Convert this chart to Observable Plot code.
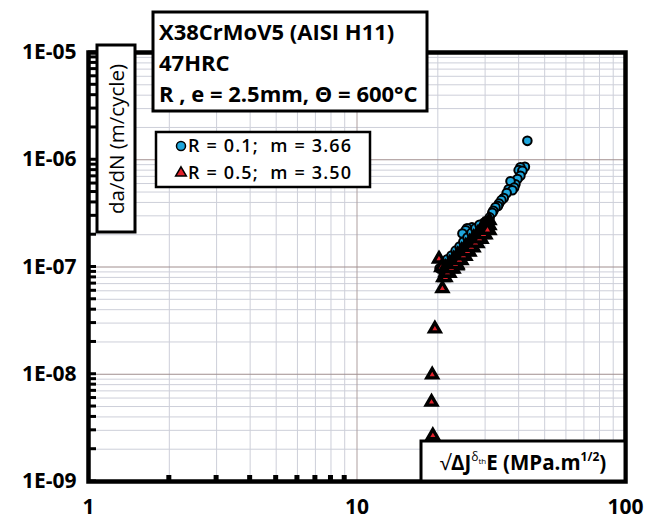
<!DOCTYPE html>
<html><head><meta charset="utf-8">
<script src="https://cdn.jsdelivr.net/npm/d3@7"></script>
<script src="https://cdn.jsdelivr.net/npm/@observablehq/plot@0.6"></script>
<style>body{margin:0;background:#fff}</style>
</head><body><div id="chart"></div>
<script>
// R = 0.1 series (x: sqrt(ΔJ E) MPa.m^1/2, y: da/dN m/cycle)
const r01Delta = [43.1,42.2,40.6,40.0,41.3,40.6,39.6,38.9,37.3,38.5,36.7,37.9,36.1,35.2,34.5,33.8,33.5,32.8,32.2,31.9,31.2,30.5,29.8,28.8,26.8,25.7,25.4,24.7,25.4,
  20.3,21.2,21.7,22.5,23.3,24.1,24.9,25.8,26.7,27.6,28.6,
  21.0,21.9,22.5,23.3,24.1,24.9,25.8,26.7,27.6,28.6,29.6,30.6];
const r01Rate = [1.50e-6,8.6e-7,8.5e-7,8.0e-7,7.9e-7,7.1e-7,6.6e-7,5.9e-7,6.3e-7,5.5e-7,5.3e-7,5.2e-7,4.9e-7,4.4e-7,4.2e-7,3.9e-7,3.7e-7,3.6e-7,3.35e-7,3.2e-7,2.9e-7,2.7e-7,2.6e-7,2.43e-7,2.35e-7,2.3e-7,2.2e-7,2.05e-7,1.28e-7,
  9.7e-8,1.05e-7,1.18e-7,1.28e-7,1.42e-7,1.55e-7,1.72e-7,1.88e-7,2.08e-7,2.29e-7,2.48e-7,
  8.87e-8,9.6e-8,1.08e-7,1.18e-7,1.31e-7,1.42e-7,1.58e-7,1.72e-7,1.91e-7,2.10e-7,2.28e-7,2.55e-7];
// R = 0.5 series
const r05Delta = [20.2,20.6,23.6,20.95,20.8,19.5,19.06,18.95,19.16,29.5,
  21.36,22.11,22.88,23.67,24.50,25.36,26.24,27.16,28.11,29.09,30.10,31.15,
  21.36,22.11,22.88,23.67,24.50,25.36,26.24,27.16,28.11,29.09,30.10,31.15,
  21.36,22.11,22.88,23.67,24.50,25.36,26.24,27.16,28.11,29.09,30.10,31.15,
  21.73,22.49,23.28,24.08,24.92,25.80,26.69,27.63,28.60,29.59,30.62,
  21.73,22.49,23.28,24.08,24.92,25.80,26.69,27.63,28.60,29.59,30.62];
const r05Rate = [1.19e-7,9.9e-8,1.03e-7,8.0e-8,6.3e-8,2.65e-8,9.9e-9,5.5e-9,2.68e-9,2.43e-7,
  9.87e-8,1.082e-7,1.188e-7,1.299e-7,1.425e-7,1.563e-7,1.713e-7,1.879e-7,2.056e-7,2.255e-7,2.473e-7,2.712e-7,
  8.87e-8,9.72e-8,1.067e-7,1.167e-7,1.280e-7,1.404e-7,1.539e-7,1.688e-7,1.847e-7,2.026e-7,2.222e-7,2.437e-7,
  7.97e-8,8.73e-8,9.58e-8,1.048e-7,1.149e-7,1.261e-7,1.382e-7,1.516e-7,1.659e-7,1.819e-7,1.995e-7,2.188e-7,
  9.80e-8,1.074e-7,1.177e-7,1.289e-7,1.415e-7,1.551e-7,1.701e-7,1.863e-7,2.040e-7,2.239e-7,2.455e-7,
  8.81e-8,9.65e-8,1.058e-7,1.158e-7,1.271e-7,1.394e-7,1.528e-7,1.674e-7,1.833e-7,2.012e-7,2.206e-7];

const xTicks = [1, 10, 100];
const xTickLabels = ["1", "10", "100"];
const yTicks = [1e-9, 1e-8, 1e-7, 1e-6, 1e-5];
const yTickLabels = ["1E-09", "1E-08", "1E-07", "1E-06", "1E-05"];
const titleLines = ["X38CrMoV5 (AISI H11)", "47HRC", "R , e = 2.5mm, \u0398 = 600\u00B0C"];
const legendLabels = ["R = 0.1;  m = 3.66", "R = 0.5;  m = 3.50"];
const yTitle = "da/dN (m/cycle)";

const r01 = r01Delta.map((x, i) => ({x, y: r01Rate[i]}));
const r05 = r05Delta.map((x, i) => ({x, y: r05Rate[i]}));

// minor log gridline / tick positions
const minor = (lo, hi) => { const out = []; for (let e = lo; e < hi; e++) for (let k = 1; k < 10; k++) out.push(k * Math.pow(10, e)); out.push(Math.pow(10, hi)); return out; };
const minorX = minor(0, 2).filter(v => !xTicks.includes(v));
const minorY = minor(-9, -5).filter(v => !yTicks.some(t => Math.abs(t - v) / t < 1e-9));
const allY = minor(-9, -5);

const W = 645, H = 519, mL = 88, mR = 20, mT = 52, mB = 38;
const font = "'Open Sans', sans-serif";
const chart = Plot.plot({
  width: W, height: H,
  marginLeft: mL, marginRight: mR, marginTop: mT, marginBottom: mB,
  style: {fontFamily: font, background: "#fff", color: "#000"},
  x: {type: "log", domain: [1, 100], axis: null},
  y: {type: "log", domain: [1e-9, 1e-5], axis: null},
  marks: [
    Plot.gridX(minorX, {stroke: "#cdcfd9", strokeOpacity: 1}),
    Plot.gridY(minorY, {stroke: "#cdcfd9", strokeOpacity: 1}),
    Plot.gridX([10], {stroke: "#ae9f9f", strokeOpacity: 1}),
    Plot.gridY(yTicks, {stroke: "#a08e8e", strokeOpacity: 1}),
    Plot.axisY(yTicks, {tickSize: 0, tickPadding: 12, fontSize: 21, fontWeight: "bold", label: null, tickFormat: d => yTickLabels[yTicks.indexOf(d)]}),
    Plot.axisX(xTicks, {tickSize: 0, tickPadding: 18, fontSize: 21, fontWeight: "bold", label: null, tickFormat: d => xTickLabels[xTicks.indexOf(d)]}),
    Plot.frame({stroke: "#000", strokeWidth: 4.5}),
    Plot.dot(r01, {x: "x", y: "y", r: 4.3, fill: "#1ea6dc", stroke: "#000", strokeWidth: 2}),
    Plot.dot(r05, {x: "x", y: "y", r: 4, symbol: "triangle", fill: "#e0202a", stroke: "#000", strokeWidth: 3.3})
  ]
});
document.getElementById("chart").appendChild(chart);

const sx = chart.scale("x"), sy = chart.scale("y");
const svg = d3.select(chart);
// inward tick marks on the left and bottom axes (positions from Plot's scales)
const ticks = svg.append("g");
allY.forEach(v => { const py = sy.apply(v);
  ticks.append("rect").attr("x", mL).attr("y", py - 1.5).attr("width", 8).attr("height", 3).attr("fill", "#000"); });
minorX.forEach(v => { const px = sx.apply(v);
  ticks.append("rect").attr("x", px - 2.5).attr("y", H - mB - 6).attr("width", 5).attr("height", 6).attr("fill", "#000"); });

const g = svg.append("g").attr("font-family", font).attr("fill", "#000").attr("text-anchor", "start");
// title box
g.append("rect").attr("x", 153).attr("y", 12).attr("width", 274).attr("height", 99)
  .attr("fill", "#fff").attr("stroke", "#000").attr("stroke-width", 3);
titleLines.forEach((t, i) => g.append("text").attr("x", 159).attr("y", 40 + i * 31)
  .attr("font-size", 22).attr("font-weight", "bold").text(t));
// y title box
g.append("rect").attr("x", 97).attr("y", 45).attr("width", 38).attr("height", 187)
  .attr("fill", "#fff").attr("stroke", "#000").attr("stroke-width", 3);
g.append("text").attr("transform", "translate(124,139) rotate(-90)").attr("text-anchor", "middle")
  .attr("font-size", 20.5).text(yTitle);
// legend box
g.append("rect").attr("x", 156).attr("y", 132).attr("width", 214).attr("height", 55)
  .attr("fill", "#fff").attr("stroke", "#000").attr("stroke-width", 2.5);
g.append("circle").attr("cx", 181).attr("cy", 146).attr("r", 4.5).attr("fill", "#1ea6dc").attr("stroke", "#000").attr("stroke-width", 1.5);
g.append("path").attr("d", d3.symbol(d3.symbolTriangle, 50)()).attr("transform", "translate(181,173)")
  .attr("fill", "#e0202a").attr("stroke", "#000").attr("stroke-width", 1.5);
legendLabels.forEach((t, i) => g.append("text").attr("x", 188).attr("y", 152 + i * 27)
  .attr("font-size", 18).attr("font-weight", 600).attr("textLength", 163).attr("lengthAdjust", "spacing")
  .style("white-space", "pre").text(t));
// x title box
g.append("rect").attr("x", 421).attr("y", 441).attr("width", 204).attr("height", 40)
  .attr("fill", "#fff").attr("stroke", "#000").attr("stroke-width", 3);
const xt = g.append("text").attr("x", 523).attr("y", 470).attr("text-anchor", "middle")
  .attr("font-size", 20.5).attr("font-weight", "bold");
xt.append("tspan").attr("font-weight", "normal").text("\u221A");
xt.append("tspan").text("\u0394J");
xt.append("tspan").attr("font-size", 12).attr("dy", -9).attr("font-weight", "normal").text("\u03B4");
xt.append("tspan").attr("font-size", 8).attr("dy", 3).attr("font-weight", "normal").text("th");
xt.append("tspan").attr("dy", 6).text("E (MPa.m");
xt.append("tspan").attr("font-size", 12).attr("dy", -9).text("1/2");
xt.append("tspan").attr("dy", 9).text(")");
</script>
</body></html>
